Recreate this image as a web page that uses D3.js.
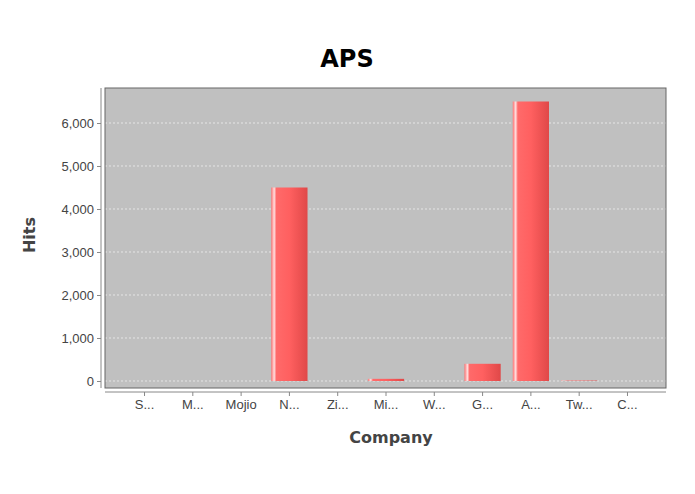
<!DOCTYPE html>
<html><head><meta charset="utf-8">
<script src="https://cdn.jsdelivr.net/npm/d3@7"></script>
<style>body{margin:0;background:#fff;font-family:"DejaVu Sans",sans-serif}</style>
</head><body>
<svg id="chart" width="695" height="494"></svg>
<script>
const categories = ['S...', 'M...', 'Mojio', 'N...', 'Zi...', 'Mi...', 'W...', 'G...', 'A...', 'Tw...', 'C...'];
const hits = [0, 0, 0, 4500, 0, 50, 0, 400, 6500, 10, 0];
const yTicks = [0, 1000, 2000, 3000, 4000, 5000, 6000];

const svg = d3.select('#chart');
const plotL = 105, plotR = 666, plotT = 88, plotB = 388;

const x = d3.scaleBand().domain(categories).range([124, 648]).paddingInner(0.25).paddingOuter(0.05);
const y = d3.scaleLinear().domain([-163, 6814]).range([plotB, plotT]);

const defs = svg.append('defs');
const g = defs.append('linearGradient').attr('id', 'bar').attr('x1', 0).attr('x2', 1);
[[0, '#ff7070'], [0.08, '#ffe0e0'], [0.14, '#ff6a6a'], [0.5, '#ff6060'], [1, '#e04848']]
  .forEach(([o, c]) => g.append('stop').attr('offset', o).attr('stop-color', c));

svg.append('rect').attr('x', plotL).attr('y', plotT).attr('width', plotR - plotL).attr('height', plotB - plotT)
  .attr('fill', '#c0c0c0');

svg.append('g').selectAll('line').data(yTicks).join('line')
  .attr('x1', plotL).attr('x2', plotR).attr('y1', d => y(d)).attr('y2', d => y(d))
  .attr('stroke', '#fff').attr('stroke-width', 0.6).attr('stroke-dasharray', '2,2');

svg.append('g').selectAll('rect').data(hits).join('rect')
  .attr('x', (d, i) => x(categories[i]))
  .attr('width', x.bandwidth())
  .attr('y', d => y(d))
  .attr('height', d => y(0) - y(d))
  .attr('fill', 'url(#bar)');

svg.append('rect').attr('x', plotL).attr('y', plotT).attr('width', plotR - plotL).attr('height', plotB - plotT)
  .attr('fill', 'none').attr('stroke', '#666').attr('stroke-width', 1);

const yAxis = svg.append('g').attr('transform', `translate(${plotL - 4},0)`)
  .call(d3.axisLeft(y).tickValues(yTicks).tickFormat(d3.format(',')).tickSize(4).tickPadding(3));
yAxis.select('.domain').attr('stroke', '#888').attr('d', `M0,${plotT}V${plotB}`);
yAxis.selectAll('.tick line').attr('stroke', '#888');
yAxis.selectAll('text').attr('fill', '#444').style('font-size', '13px');

const xAxis = svg.append('g').attr('transform', `translate(0,${plotB + 4})`)
  .call(d3.axisBottom(x).tickSize(4).tickPadding(4));
xAxis.select('.domain').attr('stroke', '#888').attr('d', `M${plotL},0H${plotR}`);
xAxis.selectAll('.tick line').attr('stroke', '#888');
xAxis.selectAll('text').attr('fill', '#444').style('font-size', '13px');

svg.append('text').attr('x', 347).attr('y', 67).attr('text-anchor', 'middle')
  .style('font-size', '24px').style('font-weight', 'bold').text('APS');
svg.append('text').attr('x', 391).attr('y', 443).attr('text-anchor', 'middle')
  .style('font-size', '16px').style('font-weight', 'bold').attr('fill', '#444').text('Company');
svg.append('text').attr('transform', 'translate(35,235) rotate(-90)').attr('text-anchor', 'middle')
  .style('font-size', '16px').style('font-weight', 'bold').attr('fill', '#444').text('Hits');
</script>
</body></html>
